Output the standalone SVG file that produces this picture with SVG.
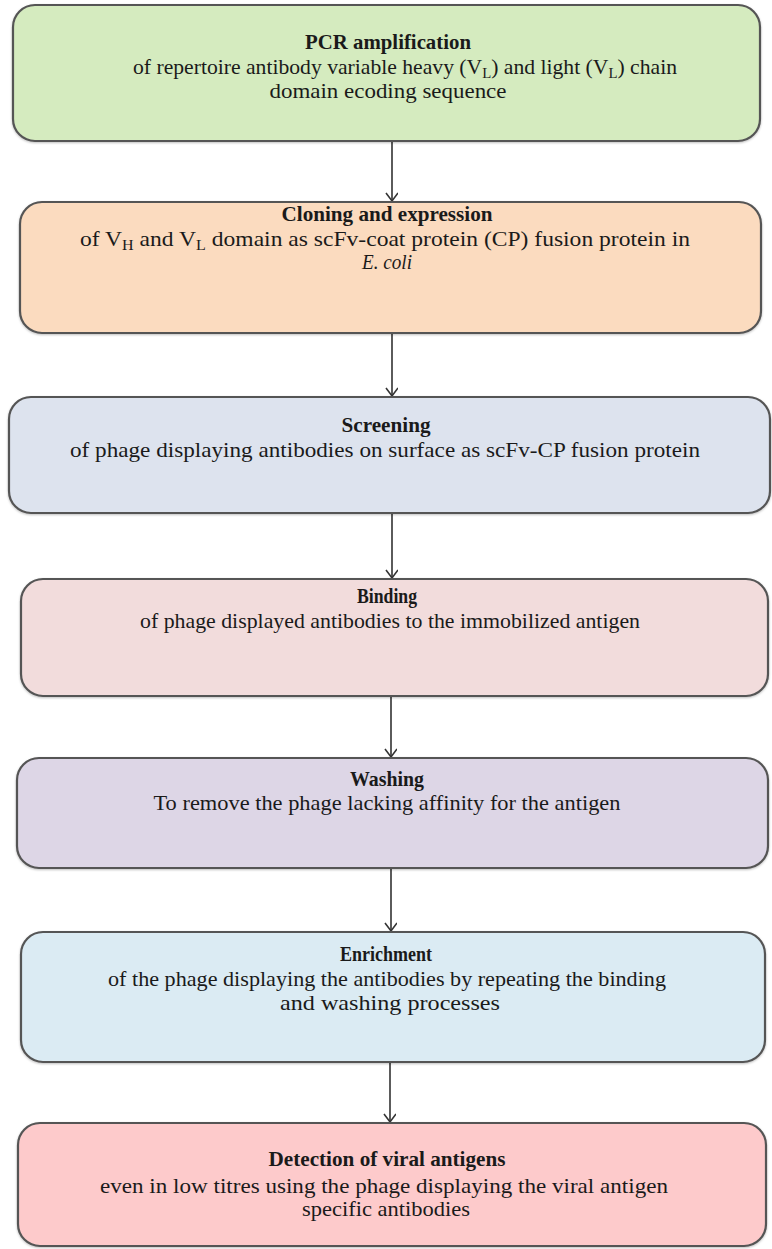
<svg xmlns="http://www.w3.org/2000/svg" width="772" height="1249" viewBox="0 0 772 1249">
<style>
.box{stroke:#555;stroke-width:2.2}
.t{font-family:"Liberation Serif","Times New Roman",Times,serif;font-size:22px;fill:#1a1a1a;text-anchor:middle}
.b{font-weight:bold;font-size:21px}
.sub{font-size:15px}
.conn{stroke:#333;stroke-width:1.6;fill:none}
</style>
<defs>
<marker id="arr" markerWidth="14" markerHeight="14" refX="9" refY="6" orient="auto" markerUnits="userSpaceOnUse">
<path d="M1,0 L9,6 L1,12" fill="none" stroke="#333" stroke-width="1.6"/>
</marker>
<filter id="sh" x="-5%" y="-5%" width="110%" height="115%">
<feDropShadow dx="0" dy="1" stdDeviation="1" flood-color="#000" flood-opacity="0.25"/>
</filter>
</defs>
<rect width="772" height="1249" fill="#fff"/>
<g id="connectors">
<line class="conn" x1="392" y1="141" x2="392" y2="201" marker-end="url(#arr)"/>
<line class="conn" x1="392" y1="333" x2="392" y2="396" marker-end="url(#arr)"/>
<line class="conn" x1="392" y1="513" x2="392" y2="578" marker-end="url(#arr)"/>
<line class="conn" x1="391" y1="696" x2="391" y2="757" marker-end="url(#arr)"/>
<line class="conn" x1="391" y1="868" x2="391" y2="931" marker-end="url(#arr)"/>
<line class="conn" x1="390" y1="1062" x2="390" y2="1122" marker-end="url(#arr)"/>
</g>
<g id="node1">
<rect class="box" x="13" y="5" width="747" height="136" rx="22" fill="#d5ebbf" filter="url(#sh)"/>
<text class="t b" x="388" y="49" textLength="166" lengthAdjust="spacingAndGlyphs">PCR amplification</text>
<text class="t" x="405" y="74" textLength="544" lengthAdjust="spacingAndGlyphs">of repertoire antibody variable heavy (V<tspan class="sub" dy="4">L</tspan><tspan dy="-4">) and light (V</tspan><tspan class="sub" dy="4">L</tspan><tspan dy="-4">) chain</tspan></text>
<text class="t" x="388" y="98" textLength="237" lengthAdjust="spacingAndGlyphs">domain ecoding sequence</text>
</g>
<g id="node2">
<rect class="box" x="20" y="202" width="741" height="131" rx="22" fill="#fbdbbf" filter="url(#sh)"/>
<text class="t b" x="387" y="221" textLength="211" lengthAdjust="spacingAndGlyphs">Cloning and expression</text>
<text class="t" x="385" y="246" textLength="610" lengthAdjust="spacingAndGlyphs">of V<tspan class="sub" dy="4">H</tspan><tspan dy="-4"> and V</tspan><tspan class="sub" dy="4">L</tspan><tspan dy="-4"> domain as scFv-coat protein (CP) fusion protein in</tspan></text>
<text class="t" x="387" y="269" font-style="italic" textLength="50" lengthAdjust="spacingAndGlyphs">E. coli</text>
</g>
<g id="node3">
<rect class="box" x="9" y="397" width="761" height="116" rx="22" fill="#dde3ee" filter="url(#sh)"/>
<text class="t b" x="386" y="432" textLength="89" lengthAdjust="spacingAndGlyphs">Screening</text>
<text class="t" x="385" y="457" textLength="630" lengthAdjust="spacingAndGlyphs">of phage displaying antibodies on surface as scFv-CP fusion protein</text>
</g>
<g id="node4">
<rect class="box" x="21" y="579" width="747" height="117" rx="22" fill="#f2dcdc" filter="url(#sh)"/>
<text class="t b" x="387" y="603" textLength="60" lengthAdjust="spacingAndGlyphs">Binding</text>
<text class="t" x="390" y="628" textLength="500" lengthAdjust="spacingAndGlyphs">of phage displayed antibodies to the immobilized antigen</text>
</g>
<g id="node5">
<rect class="box" x="17" y="758" width="751" height="110" rx="22" fill="#ddd6e6" filter="url(#sh)"/>
<text class="t b" x="387" y="786" textLength="74" lengthAdjust="spacingAndGlyphs">Washing</text>
<text class="t" x="387" y="810" textLength="467" lengthAdjust="spacingAndGlyphs">To remove the phage lacking affinity for the antigen</text>
</g>
<g id="node6">
<rect class="box" x="21" y="932" width="744" height="130" rx="22" fill="#dbebf3" filter="url(#sh)"/>
<text class="t b" x="386" y="961" textLength="92" lengthAdjust="spacingAndGlyphs">Enrichment</text>
<text class="t" x="387" y="986" textLength="558" lengthAdjust="spacingAndGlyphs">of the phage displaying the antibodies by repeating the binding</text>
<text class="t" x="390" y="1010" textLength="220" lengthAdjust="spacingAndGlyphs">and washing processes</text>
</g>
<g id="node7">
<rect class="box" x="18" y="1123" width="748" height="123" rx="22" fill="#fdcacb" filter="url(#sh)"/>
<text class="t b" x="387" y="1166" textLength="237" lengthAdjust="spacingAndGlyphs">Detection of viral antigens</text>
<text class="t" x="384" y="1193" textLength="568" lengthAdjust="spacingAndGlyphs">even in low titres using the phage displaying the viral antigen</text>
<text class="t" x="386" y="1216" textLength="168" lengthAdjust="spacingAndGlyphs">specific antibodies</text>
</g>
</svg>
